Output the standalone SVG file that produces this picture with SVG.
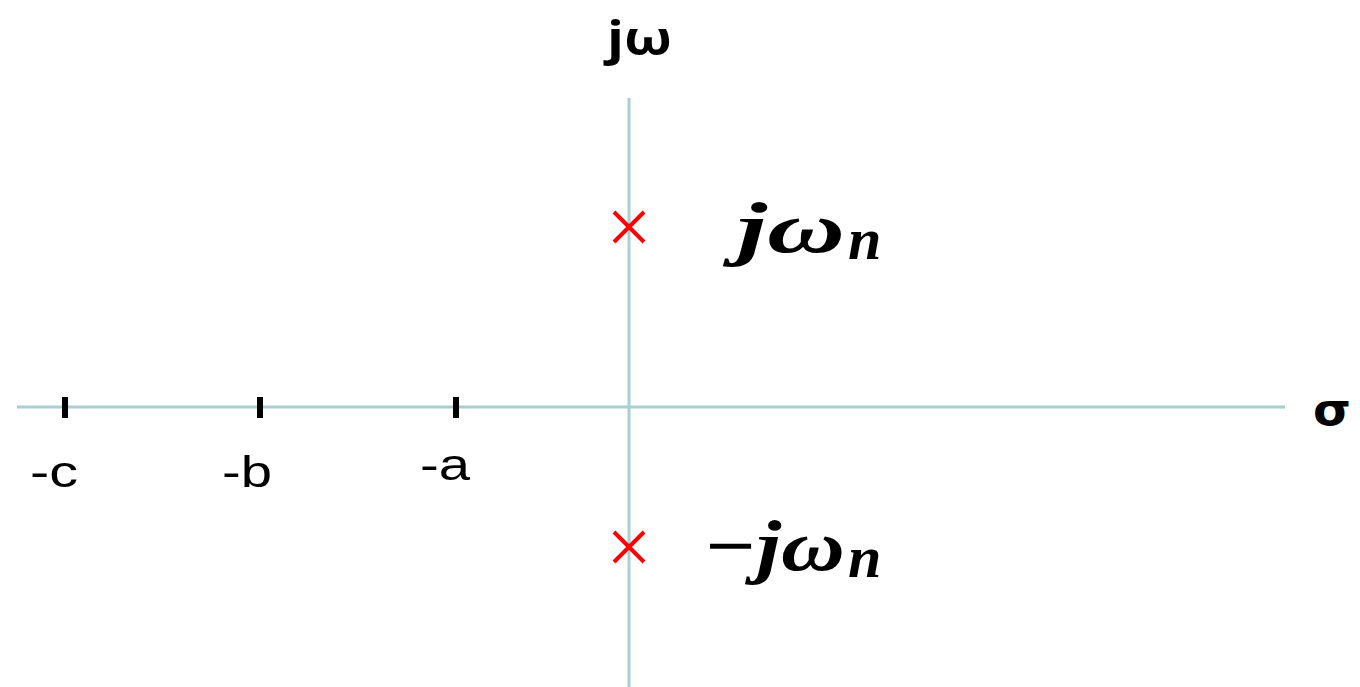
<svg xmlns="http://www.w3.org/2000/svg" width="1360" height="687" viewBox="0 0 1360 687">
<style>
.axis{stroke:#a8d0d2;stroke-width:3;fill:none}
.tick{stroke:#000;stroke-width:6}
.pole{stroke:#ff0000;stroke-width:4;stroke-linecap:butt}
.lbl{font-family:"Liberation Sans",Arial,sans-serif;font-size:44px;fill:#000}
.math{font-family:"Liberation Serif","DejaVu Serif",serif;font-style:italic;font-weight:bold;fill:#000}
</style>
<rect width="1360" height="687" fill="#fff"/>
<g id="axes">
<line class="axis" x1="17" y1="407" x2="1285" y2="407"/>
<line class="axis" x1="629" y1="98" x2="629" y2="687"/>
</g>
<g id="ticks">
<line class="tick" x1="65" y1="397" x2="65" y2="418"/>
<line class="tick" x1="260" y1="397" x2="260" y2="418"/>
<line class="tick" x1="456" y1="397" x2="456" y2="418"/>
</g>
<g id="pole-upper">
<path class="pole" d="M614 212L644 242M644 212L614 242"/>
</g>
<g id="pole-lower">
<path class="pole" d="M614 532L644 562M644 532L614 562"/>
</g>
<g id="labels">
<text x="607" y="55" font-family="'Open Sans','DejaVu Sans',sans-serif" font-size="46" font-weight="bold" textLength="65" lengthAdjust="spacingAndGlyphs">jω</text>
<text x="1313" y="425" font-family="'DejaVu Sans','Liberation Sans',sans-serif" font-size="44" font-weight="bold" textLength="38" lengthAdjust="spacingAndGlyphs">σ</text>
<text class="lbl" x="30" y="487" textLength="48" lengthAdjust="spacingAndGlyphs">-c</text>
<text class="lbl" x="222" y="487" textLength="50" lengthAdjust="spacingAndGlyphs">-b</text>
<text class="lbl" x="420" y="480" textLength="50" lengthAdjust="spacingAndGlyphs">-a</text>
<text class="math" x="737" y="252" font-size="72"><tspan textLength="108" lengthAdjust="spacingAndGlyphs">jω</tspan><tspan font-size="60" dy="7" dx="3">n</tspan></text>
<text class="math" x="703" y="570" font-size="72"><tspan textLength="142" lengthAdjust="spacingAndGlyphs">−jω</tspan><tspan font-size="60" dy="7" dx="3">n</tspan></text>
</g>
</svg>
